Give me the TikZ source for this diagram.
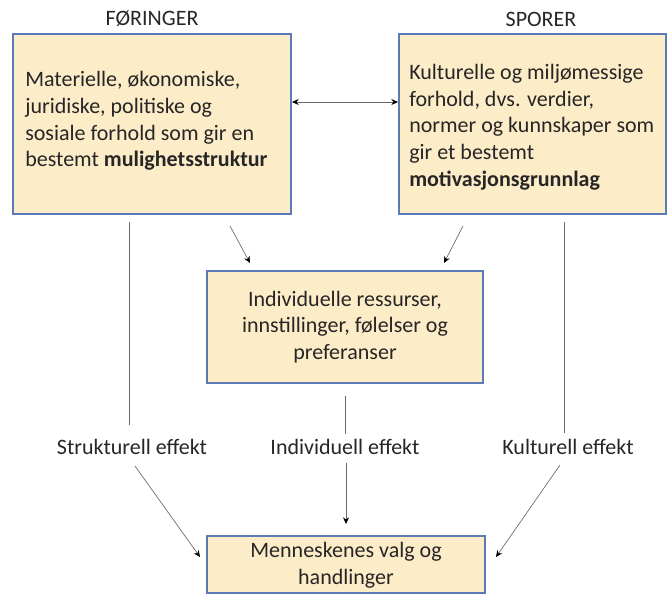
\documentclass[tikz,border=0pt]{standalone}
\usepackage{fontspec}
\setmainfont{Carlito}
\usetikzlibrary{arrows.meta}
\definecolor{boxfill}{RGB}{253,236,200}
\definecolor{boxdraw}{RGB}{92,122,182}
\definecolor{linegray}{RGB}{105,105,105}
\begin{document}
\begin{tikzpicture}[x=0.75pt,y=-0.75pt,
  box/.style={draw=boxdraw, fill=boxfill, line width=0.9pt, inner sep=0pt},
  txt/.style={font=\fontsize{16.5}{20}\selectfont, text=black!85, inner sep=0pt},
  conn/.style={draw=linegray, line width=0.5pt},
  arr/.style={conn, -{Stealth[length=5pt,width=4.5pt,color=black]}},
  dbl/.style={conn, {Stealth[length=5pt,width=4.5pt,color=black]}-{Stealth[length=5pt,width=4.5pt,color=black]}}
]
\useasboundingbox (0,0) rectangle (667,594);

% titles
\node[txt] (tf) at (152,19) {FØRINGER};
\node[txt] (ts) at (541,19) {SPORER};

% boxes
\node[box, minimum width=278*0.75pt, minimum height=180*0.75pt] (lbox) at (152,124) {};
\node[box, minimum width=267*0.75pt, minimum height=180*0.75pt] (rbox) at (532.5,124) {};
\node[box, minimum width=276*0.75pt, minimum height=112*0.75pt] (mbox) at (345,327) {};
\node[box, minimum width=278*0.75pt, minimum height=57*0.75pt] (bbox) at (346,564.5) {};

% box texts
\node[txt, align=left, anchor=west] (ltxt) at (25,121) {Materielle, økonomiske,\\juridiske, politiske og\\sosiale forhold som gir en\\bestemt \textbf{mulighetsstruktur}};
\node[txt, align=left, anchor=west] (rtxt) at (409,127) {Kulturelle og miljømessige\\forhold, dvs. verdier,\\normer og kunnskaper som\\gir et bestemt\\\textbf{motivasjonsgrunnlag}};
\node[txt, align=center] (mtxt) at (345,327) {Individuelle ressurser,\\innstillinger, følelser og\\preferanser};
\node[txt, align=center] (btxt) at (346,565) {Menneskenes valg og\\handlinger};

% effect labels
\node[txt] (se) at (132,447) {Strukturell effekt};
\node[txt] (ie) at (345,447) {Individuell effekt};
\node[txt] (ke) at (568,447) {Kulturell effekt};

% connector end points
\coordinate (da) at (292,102);
\coordinate (db) at (398,102);
\coordinate (d1a) at (230,226);
\coordinate (d1b) at (250,263);
\coordinate (d2a) at (463,226);
\coordinate (d2b) at (444,263);
\coordinate (l1) at (129,222);
\coordinate (l2) at (129,425);
\coordinate (l3) at (135,466);
\coordinate (l4) at (200,557);
\coordinate (m1) at (345,396);
\coordinate (m2) at (345,434);
\coordinate (m3) at (346,463);
\coordinate (m4) at (346,524);
\coordinate (r1) at (564,222);
\coordinate (r2) at (564,433);
\coordinate (r3) at (560,465);
\coordinate (r4) at (496,557);

% connectors
\draw[dbl] (da) -- (db);
\draw[arr] (d1a) -- (d1b);
\draw[arr] (d2a) -- (d2b);
\draw[conn] (l1) -- (l2);
\draw[arr] (l3) -- (l4);
\draw[conn] (m1) -- (m2);
\draw[arr] (m3) -- (m4);
\draw[conn] (r1) -- (r2);
\draw[arr] (r3) -- (r4);
\end{tikzpicture}
\end{document}
